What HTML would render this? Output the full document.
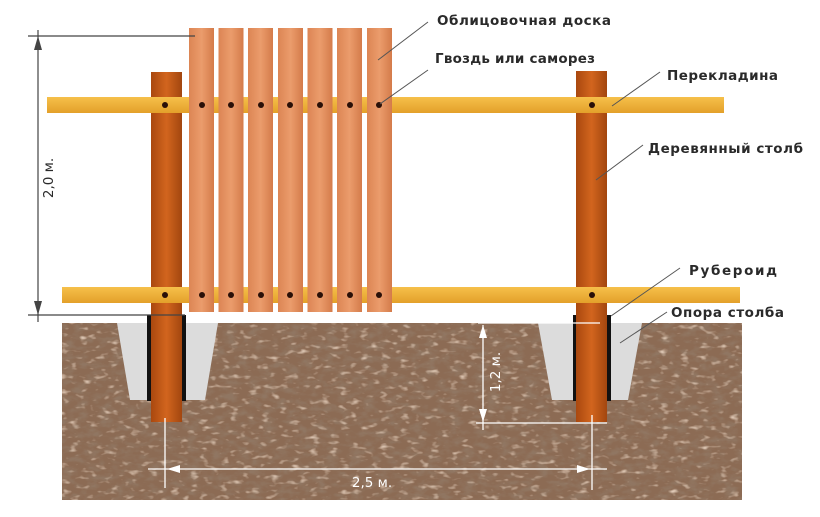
<!DOCTYPE html>
<html><head><meta charset="utf-8"><style>
html,body{margin:0;padding:0;background:#fff}
svg{display:block}
text{font-family:"DejaVu Sans","Liberation Sans",sans-serif;fill:#2a2a2a;font-size:13.5px;font-weight:bold}
</style></head><body>
<svg width="820" height="517" viewBox="0 0 820 517" xmlns="http://www.w3.org/2000/svg">
<defs>
<filter id="noise" x="0" y="0" width="100%" height="100%">
<feTurbulence type="fractalNoise" baseFrequency="0.08 0.16" numOctaves="3" seed="4" result="t"/>
<feColorMatrix in="t" type="matrix" values="0 0 0 0 0.28  0 0 0 0 0.18  0 0 0 0 0.12  0 0 0 -3 1.75" result="c"/>
<feComposite in="c" in2="SourceGraphic" operator="in"/>
</filter>
<filter id="noise2" x="0" y="0" width="100%" height="100%">
<feTurbulence type="fractalNoise" baseFrequency="0.1 0.2" numOctaves="2" seed="11" result="t"/>
<feColorMatrix in="t" type="matrix" values="0 0 0 0 0.78  0 0 0 0 0.62  0 0 0 0 0.5  0 0 0 3 -1.75" result="c"/>
<feComposite in="c" in2="SourceGraphic" operator="in"/>
</filter>
<linearGradient id="board" x1="0" x2="1"><stop offset="0" stop-color="#dc8554"/><stop offset=".5" stop-color="#eb9c6c"/><stop offset="1" stop-color="#d47b4a"/></linearGradient>
<linearGradient id="post" x1="0" x2="1"><stop offset="0" stop-color="#a9480f"/><stop offset=".5" stop-color="#d2651e"/><stop offset="1" stop-color="#a2460f"/></linearGradient>
<linearGradient id="rail" y1="0" y2="1" x1="0" x2="0"><stop offset="0" stop-color="#f6c04a"/><stop offset="1" stop-color="#e3a02a"/></linearGradient>
</defs>
<!-- soil -->
<rect x="62" y="323" width="680" height="177" fill="#8c6b54"/>
<rect x="62" y="323" width="680" height="177" fill="#000" filter="url(#noise)"/>
<rect x="62" y="323" width="680" height="177" fill="#000" filter="url(#noise2)"/>
<!-- concrete -->
<polygon points="117,323 218,323 205,400 130,400" fill="#dcdcdc"/>
<polygon points="538,323 642,323 628,400 552,400" fill="#dcdcdc"/>
<rect x="147" y="315" width="39" height="86" fill="#111"/>
<rect x="573" y="315" width="38" height="86" fill="#111"/>
<!-- posts -->
<rect x="151" y="72" width="31" height="350" fill="url(#post)"/>
<rect x="576" y="71" width="31" height="351" fill="url(#post)"/>
<!-- rails -->
<rect x="47" y="97" width="677" height="16" fill="url(#rail)"/>
<rect x="62" y="287" width="678" height="16" fill="url(#rail)"/>
<!-- boards -->
<g fill="url(#board)">
<rect x="189" y="28" width="25" height="284"/>
<rect x="218.5" y="28" width="25" height="284"/>
<rect x="248" y="28" width="25" height="284"/>
<rect x="278" y="28" width="25" height="284"/>
<rect x="307.5" y="28" width="25" height="284"/>
<rect x="337" y="28" width="25" height="284"/>
<rect x="367" y="28" width="25" height="284"/>
</g>
<!-- nails -->
<g fill="#2a1008">
<circle cx="165" cy="105" r="3"/><circle cx="592" cy="105" r="3"/>
<circle cx="165" cy="295" r="3"/><circle cx="592" cy="295" r="3"/>
<circle cx="202" cy="105" r="3"/><circle cx="231" cy="105" r="3"/><circle cx="261" cy="105" r="3"/><circle cx="290" cy="105" r="3"/><circle cx="320" cy="105" r="3"/><circle cx="350" cy="105" r="3"/><circle cx="379" cy="105" r="3"/>
<circle cx="202" cy="295" r="3"/><circle cx="231" cy="295" r="3"/><circle cx="261" cy="295" r="3"/><circle cx="290" cy="295" r="3"/><circle cx="320" cy="295" r="3"/><circle cx="350" cy="295" r="3"/><circle cx="379" cy="295" r="3"/>
</g>
<!-- 2.0 dimension -->
<g stroke="#444" stroke-width="1.2" fill="none">
<line x1="28" y1="36" x2="195" y2="36"/>
<line x1="28" y1="315" x2="185" y2="315"/>
<line x1="38" y1="30" x2="38" y2="322"/>
</g>
<polygon points="38,36 34,50 42,50" fill="#444"/>
<polygon points="38,315 34,301 42,301" fill="#444"/>
<text transform="translate(53,178) rotate(-90)" text-anchor="middle" style="font-weight:normal">2,0 м.</text>
<!-- 1.2 dimension -->
<g stroke="#fff" stroke-width="1.3">
<line x1="478" y1="323" x2="600" y2="323"/>
<line x1="476" y1="423" x2="607" y2="423"/>
<line x1="483" y1="325" x2="483" y2="430"/>
<line x1="165" y1="418" x2="165" y2="488"/>
<line x1="592" y1="415" x2="592" y2="490"/>
<line x1="148" y1="469" x2="607" y2="469"/>
</g>
<polygon points="483,325 479,338 487,338" fill="#fff"/>
<polygon points="483,422 479,409 487,409" fill="#fff"/>
<polygon points="167,469 180,465 180,473" fill="#fff"/>
<polygon points="590,469 577,465 577,473" fill="#fff"/>
<text transform="translate(500,372) rotate(-90)" text-anchor="middle" style="fill:#fff;font-weight:normal">1,2 м.</text>
<text x="372" y="487" text-anchor="middle" style="fill:#fff;font-weight:normal">2,5 м.</text>
<!-- leaders -->
<g stroke="#555" stroke-width="1">
<line x1="378" y1="60" x2="428" y2="22"/>
<line x1="380" y1="104" x2="428" y2="70"/>
<line x1="612" y1="106" x2="660" y2="72"/>
<line x1="596" y1="180" x2="643" y2="145"/>
<line x1="611" y1="316" x2="680" y2="268"/>
<line x1="620" y1="343" x2="667" y2="312"/>
</g>
<text x="437" y="25" textLength="174">Облицовочная доска</text>
<text x="435" y="63" textLength="160">Гвоздь или саморез</text>
<text x="667" y="80" textLength="111">Перекладина</text>
<text x="648" y="153" textLength="155">Деревянный столб</text>
<text x="689" y="275" textLength="88">Рубероид</text>
<text x="671" y="317" textLength="113">Опора столба</text>
</svg>
</body></html>
